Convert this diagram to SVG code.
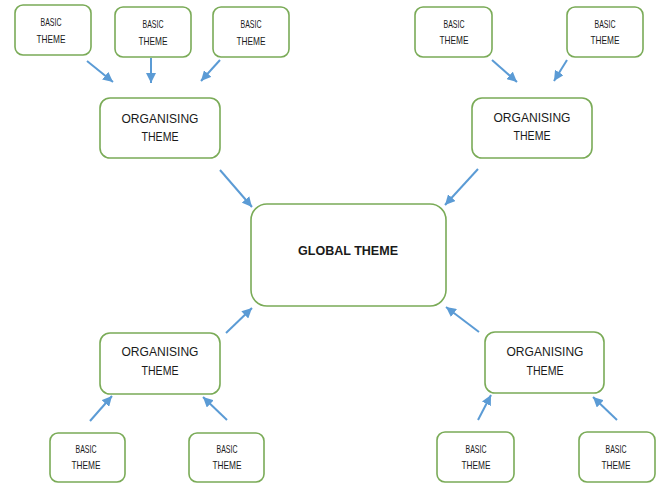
<svg xmlns="http://www.w3.org/2000/svg" width="657" height="483" viewBox="0 0 657 483">
<defs>
<style>
.box{fill:#fff;stroke:#7aab57;stroke-width:1.6}
.t{font-family:"Liberation Sans",Arial,sans-serif;fill:#1a1a1a;text-anchor:middle}
.b{font-size:11px}
.o{font-size:13px}
.g{font-size:13px;font-weight:bold}
.c{stroke:#5b9bd5;stroke-width:2;fill:none}
</style>
<marker id="ah" viewBox="0 0 10 10" refX="10" refY="5" markerWidth="10" markerHeight="10" markerUnits="userSpaceOnUse" orient="auto">
<path d="M0,0 L10,5 L0,10 z" fill="#5b9bd5"/>
</marker>
</defs>
<rect width="657" height="483" fill="#fff"/>
<g id="connectors">
<line class="c" x1="87" y1="61" x2="113" y2="82" marker-end="url(#ah)"/>
<line class="c" x1="151" y1="58" x2="151" y2="83" marker-end="url(#ah)"/>
<line class="c" x1="220" y1="60" x2="201" y2="81" marker-end="url(#ah)"/>
<line class="c" x1="492" y1="60" x2="517" y2="82" marker-end="url(#ah)"/>
<line class="c" x1="567" y1="60" x2="554" y2="81" marker-end="url(#ah)"/>
<line class="c" x1="220" y1="170" x2="252" y2="207" marker-end="url(#ah)"/>
<line class="c" x1="478" y1="169" x2="445" y2="205" marker-end="url(#ah)"/>
<line class="c" x1="226" y1="333" x2="252" y2="308" marker-end="url(#ah)"/>
<line class="c" x1="479" y1="332" x2="446" y2="307" marker-end="url(#ah)"/>
<line class="c" x1="90" y1="421" x2="112" y2="396" marker-end="url(#ah)"/>
<line class="c" x1="227" y1="420" x2="203" y2="397" marker-end="url(#ah)"/>
<line class="c" x1="478" y1="420" x2="491" y2="395" marker-end="url(#ah)"/>
<line class="c" x1="617" y1="420" x2="593" y2="397" marker-end="url(#ah)"/>
</g>
<g id="basic1"><rect class="box" x="15" y="5" width="76" height="50" rx="8"/><text class="t b" x="51" y="26" textLength="21" lengthAdjust="spacingAndGlyphs">BASIC</text><text class="t b" x="51" y="43" textLength="29" lengthAdjust="spacingAndGlyphs">THEME</text></g>
<g id="basic2"><rect class="box" x="115" y="7" width="76" height="50" rx="8"/><text class="t b" x="153" y="28" textLength="21" lengthAdjust="spacingAndGlyphs">BASIC</text><text class="t b" x="153" y="45" textLength="29" lengthAdjust="spacingAndGlyphs">THEME</text></g>
<g id="basic3"><rect class="box" x="213" y="7" width="76" height="50" rx="8"/><text class="t b" x="251" y="28" textLength="21" lengthAdjust="spacingAndGlyphs">BASIC</text><text class="t b" x="251" y="45" textLength="29" lengthAdjust="spacingAndGlyphs">THEME</text></g>
<g id="basic4"><rect class="box" x="415" y="7" width="77" height="50" rx="8"/><text class="t b" x="454" y="28" textLength="21" lengthAdjust="spacingAndGlyphs">BASIC</text><text class="t b" x="454" y="44" textLength="29" lengthAdjust="spacingAndGlyphs">THEME</text></g>
<g id="basic5"><rect class="box" x="567" y="7" width="76" height="50" rx="8"/><text class="t b" x="605" y="28" textLength="21" lengthAdjust="spacingAndGlyphs">BASIC</text><text class="t b" x="605" y="44" textLength="29" lengthAdjust="spacingAndGlyphs">THEME</text></g>
<g id="org1"><rect class="box" x="100" y="98" width="120" height="60" rx="10"/><text class="t o" x="160" y="123" textLength="77" lengthAdjust="spacingAndGlyphs">ORGANISING</text><text class="t o" x="160" y="141" textLength="37" lengthAdjust="spacingAndGlyphs">THEME</text></g>
<g id="org2"><rect class="box" x="472" y="98" width="120" height="60" rx="10"/><text class="t o" x="532" y="122" textLength="77" lengthAdjust="spacingAndGlyphs">ORGANISING</text><text class="t o" x="532" y="140" textLength="37" lengthAdjust="spacingAndGlyphs">THEME</text></g>
<g id="global"><rect class="box" x="251" y="204" width="195" height="102" rx="16"/><text class="t g" x="348" y="255" textLength="100" lengthAdjust="spacingAndGlyphs">GLOBAL THEME</text></g>
<g id="org3"><rect class="box" x="100" y="333" width="120" height="61" rx="10"/><text class="t o" x="160" y="356" textLength="77" lengthAdjust="spacingAndGlyphs">ORGANISING</text><text class="t o" x="160" y="375" textLength="37" lengthAdjust="spacingAndGlyphs">THEME</text></g>
<g id="org4"><rect class="box" x="485" y="332" width="119" height="61" rx="10"/><text class="t o" x="545" y="356" textLength="77" lengthAdjust="spacingAndGlyphs">ORGANISING</text><text class="t o" x="545" y="375" textLength="37" lengthAdjust="spacingAndGlyphs">THEME</text></g>
<g id="basic6"><rect class="box" x="50" y="433" width="75" height="49" rx="8"/><text class="t b" x="86" y="453" textLength="21" lengthAdjust="spacingAndGlyphs">BASIC</text><text class="t b" x="86" y="469" textLength="29" lengthAdjust="spacingAndGlyphs">THEME</text></g>
<g id="basic7"><rect class="box" x="189" y="433" width="75" height="49" rx="8"/><text class="t b" x="227" y="453" textLength="21" lengthAdjust="spacingAndGlyphs">BASIC</text><text class="t b" x="227" y="469" textLength="29" lengthAdjust="spacingAndGlyphs">THEME</text></g>
<g id="basic8"><rect class="box" x="437" y="432" width="77" height="50" rx="8"/><text class="t b" x="476" y="453" textLength="21" lengthAdjust="spacingAndGlyphs">BASIC</text><text class="t b" x="476" y="469" textLength="29" lengthAdjust="spacingAndGlyphs">THEME</text></g>
<g id="basic9"><rect class="box" x="579" y="432" width="76" height="50" rx="8"/><text class="t b" x="616" y="453" textLength="21" lengthAdjust="spacingAndGlyphs">BASIC</text><text class="t b" x="616" y="469" textLength="29" lengthAdjust="spacingAndGlyphs">THEME</text></g>
</svg>
